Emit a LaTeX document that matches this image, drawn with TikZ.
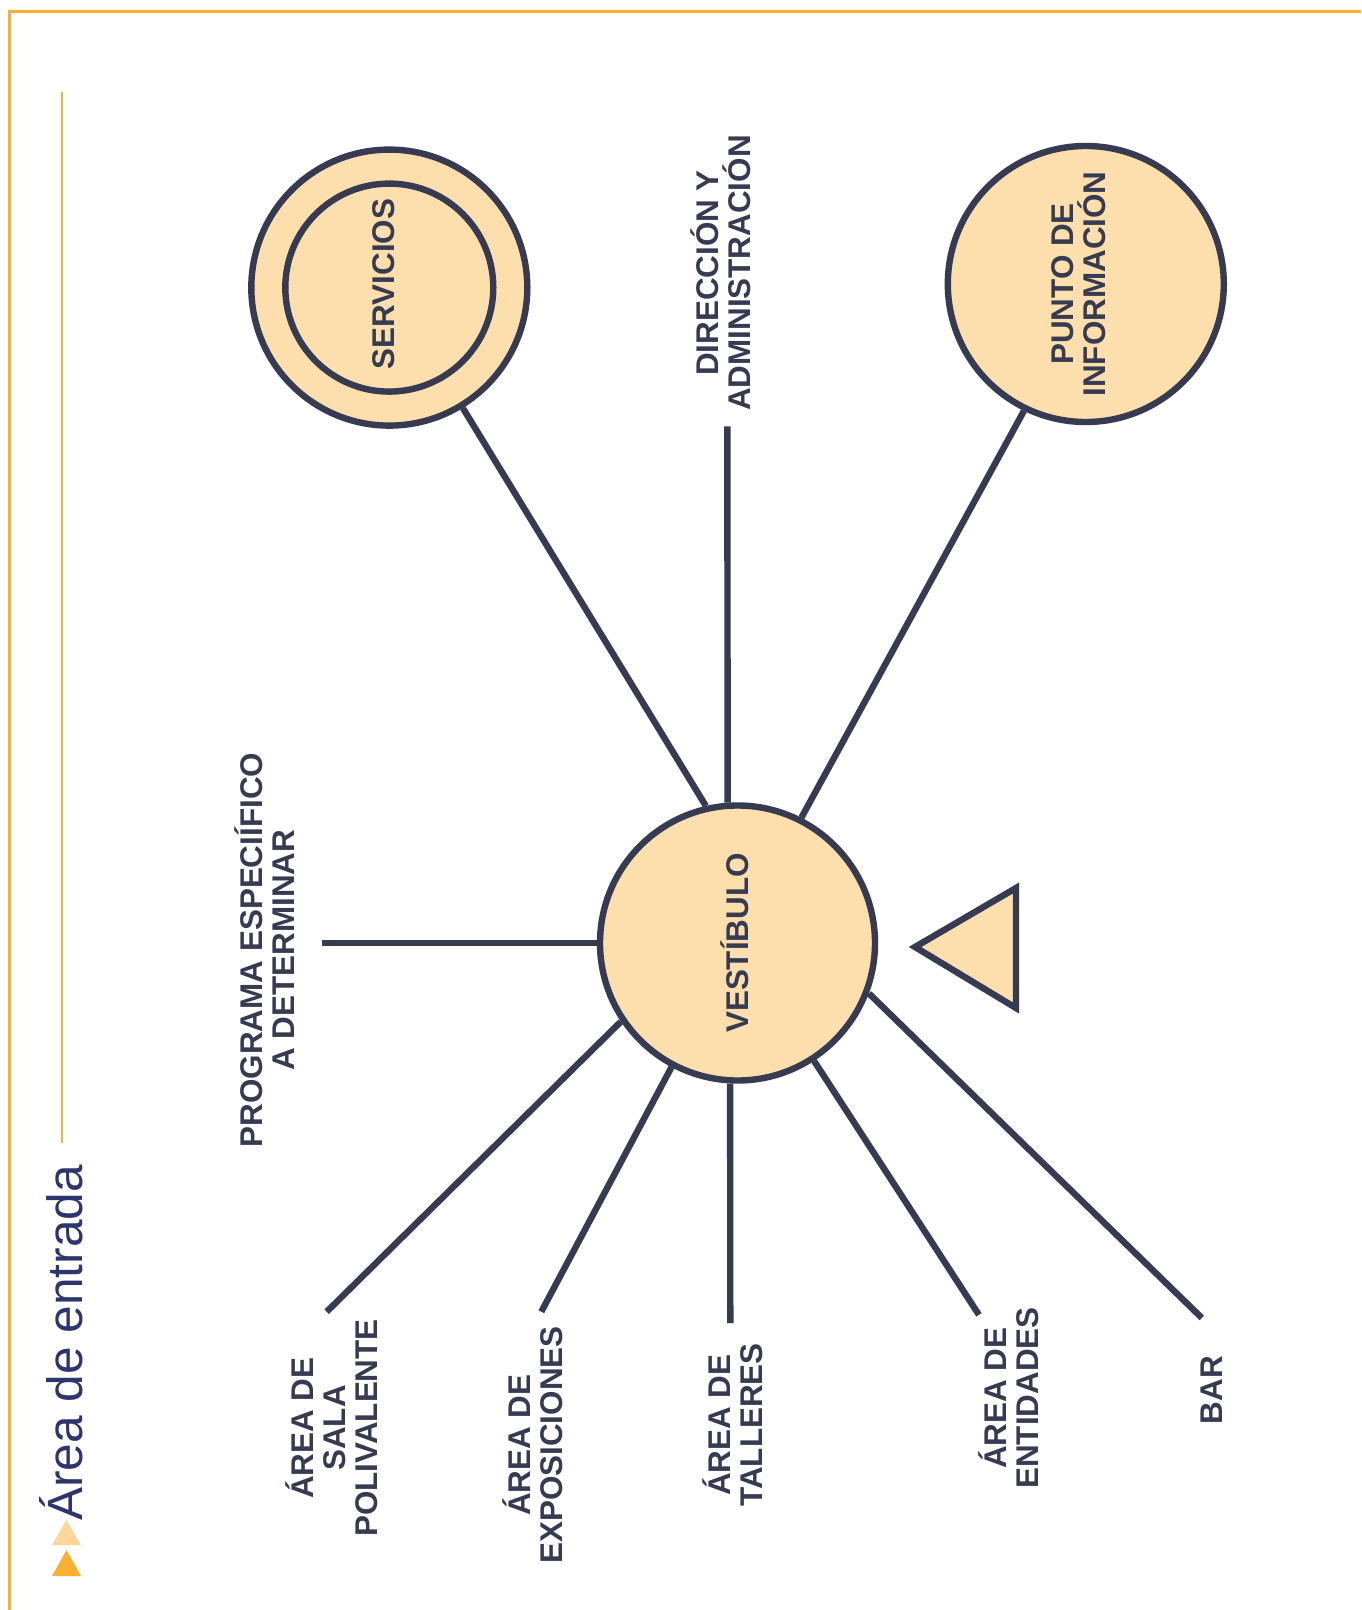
\documentclass[tikz,border=0pt]{standalone}
\usepackage{fontspec}
\setmainfont{Liberation Sans}
\definecolor{ink}{HTML}{363B51}
\definecolor{peach}{HTML}{FDDEAD}
\definecolor{orng}{HTML}{FBB034}
\definecolor{lightor}{HTML}{FFD699}
\definecolor{titlecol}{HTML}{2E346E}
\begin{document}
\begin{tikzpicture}[x=0.5pt,y=-0.5pt,
  lbl/.style={rotate=90, align=center, text=ink, inner sep=0pt,
    font=\bfseries\fontsize{15.7}{16}\selectfont},
  bubble/.style={circle, draw=ink, fill=peach, line width=3.2pt, inner sep=0pt},
  ring/.style={circle, draw=ink, line width=3.2pt, inner sep=0pt},
  link/.style={draw=ink, line width=3.2pt},
  frameline/.style={draw=orng, line width=1.4pt}]
\useasboundingbox (0,0) rectangle (1361,1610);
\fill[white] (0,0) rectangle (1361,1610);

% frame and title
\draw[frameline] (9.7,1610) -- (9.7,11.5) -- (1361,11.5);
\draw[draw=orng, line width=1pt] (62,92) -- (62,1143);
\fill[lightor] (52,1545) -- (66.5,1520) -- (81,1545) -- cycle;
\fill[orng] (52,1576) -- (66.5,1550) -- (81,1576) -- cycle;
\node[rotate=90, anchor=base west, inner sep=0pt, text=titlecol,
  font=\fontsize{24.8}{29}\selectfont] (title) at (82,1521) {Área de entrada};

% bubbles
\node[bubble, minimum size=138pt] (servout) at (389.3,287.6) {};
\node[ring, minimum size=104pt] (servin) at (389.3,287.6) {};
\node[lbl] (servtxt) at (384,284) {SERVICIOS};
\node[bubble, minimum size=138pt] (punto) at (1085.8,284) {};
\node[lbl] (puntotxt) at (1079,284) {PUNTO DE\\INFORMACIÓN};
\node[bubble, minimum size=137.5pt] (vest) at (737.5,943) {};
\node[lbl] (vesttxt) at (735,943) {VESTÍBULO};

% entrance triangle
\draw[draw=ink, fill=peach, line width=3.2pt, line join=miter]
  (915,947) -- (1016,888) -- (1016,1008) -- cycle;

% labels
\node[lbl] (dir) at (721,273) {DIRECCIÓN Y\\ADMINISTRACIÓN};
\node[lbl] (prog) at (265,950) {PROGRAMA ESPECIÍFICO\\A DETERMINAR};
\node[lbl] (sala) at (332,1428) {ÁREA DE\\SALA\\POLIVALENTE};
\node[lbl] (expo) at (533,1445) {ÁREA DE\\EXPOSICIONES};
\node[lbl] (tall) at (733,1425) {ÁREA DE\\TALLERES};
\node[lbl] (enti) at (1009,1398) {ÁREA DE\\ENTIDADES};
\node[lbl] (bar) at (1212,1390) {BAR};

% free ends of connectors
\coordinate (dirend) at (727.3,426.3);
\coordinate (progend) at (321.5,943);
\coordinate (salaend) at (326.7,1311.7);
\coordinate (expoend) at (541.3,1311.7);
\coordinate (tallend) at (730.3,1323);
\coordinate (entiend) at (978.9,1314.8);
\coordinate (barend) at (1201.8,1317.9);

% connectors
\draw[link] (servout) -- (vest.103.5);
\draw[link] (punto.244.4) -- (vest.63.6);
\draw[link] (dirend) -- (vest.94.3);
\draw[link] (progend) -- (vest.west);
\draw[link] (salaend) -- (vest.214.1);
\draw[link] (expoend) -- (vest.242.7);
\draw[link] (tallend) -- (vest.267);
\draw[link] (entiend) -- (vest.303.8);
\draw[link] (barend) -- (vest.339.4);
\end{tikzpicture}
\end{document}
